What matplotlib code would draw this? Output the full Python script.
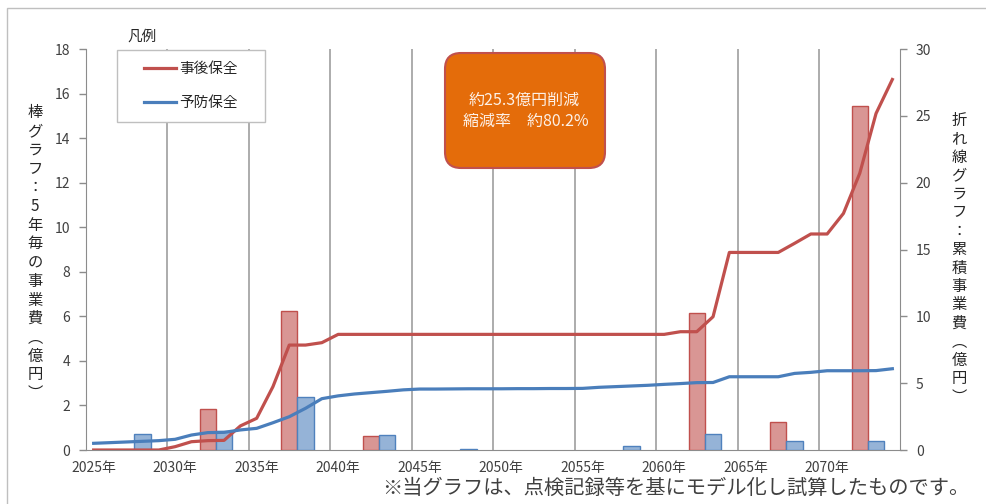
import numpy as np
import matplotlib
matplotlib.use("Agg")
import matplotlib.pyplot as plt
from matplotlib.patches import Rectangle, FancyBboxPatch

plt.rcParams['font.family'] = ['Noto Sans CJK JP', 'DejaVu Sans']

# データ
years = list(range(2025, 2075))
red_cum = [0, 0, 0, 0, 0,
           0.25, 0.62, 0.70, 0.72, 1.80, 2.37, 4.74, 7.85, 7.85, 8.03,
           8.65, 8.65, 8.65, 8.65, 8.65, 8.65, 8.65, 8.65, 8.65, 8.65,
           8.65, 8.65, 8.65, 8.65, 8.65, 8.65, 8.65, 8.65, 8.65, 8.65, 8.65,
           8.85, 8.85, 9.97, 14.78, 14.78, 14.78, 14.78,
           15.46, 16.16, 16.16, 17.70, 20.70, 25.18, 27.72]
blue_cum = [0.50, 0.55, 0.60, 0.65, 0.70, 0.80, 1.12, 1.30, 1.32, 1.50,
            1.62, 2.04, 2.49, 3.12, 3.84, 4.05, 4.19, 4.29, 4.39, 4.50,
            4.56, 4.56, 4.57, 4.58, 4.58, 4.58, 4.59, 4.59, 4.60, 4.60,
            4.61, 4.69, 4.74, 4.79, 4.84, 4.91, 4.97, 5.04, 5.05, 5.48,
            5.48, 5.48, 5.48, 5.73, 5.81, 5.93, 5.93, 5.93, 5.94, 6.08]
red_bar_years = [2032, 2037, 2042, 2062, 2067, 2072]
red_bar_vals = [1.83, 6.24, 0.63, 6.13, 1.27, 15.44]
blue_bar_years = [2028, 2033, 2038, 2043, 2048, 2058, 2063, 2068, 2073]
blue_bar_vals = [0.70, 0.85, 2.39, 0.67, 0.06, 0.18, 0.72, 0.42, 0.42]
label_years = list(range(2025, 2075, 5))
series_names = ['事後保全', '予防保全']

W, H = 986, 504
fig = plt.figure(figsize=(W / 100, H / 100), dpi=100)


def fx(x):
    return x / W


def fy(y):
    return 1 - y / H


ax = fig.add_axes([fx(85.5), fy(450), fx(900.5) - fx(85.5), fy(49) - fy(450)])
ax2 = ax.twinx()

text_col = '#404040'
axis_col = '#8c8c8c'

# 棒グラフ
ax.bar(red_bar_years, red_bar_vals, width=1, align='edge',
       color='#D99694', edgecolor='#C0504D', linewidth=1, zorder=3)
ax.bar(blue_bar_years, blue_bar_vals, width=1, align='edge',
       color='#95B3D7', edgecolor='#4F81BD', linewidth=1, zorder=3)

# 折れ線
xs = np.array(years) + 0.5
l1, = ax2.plot(xs, red_cum, color='#C0504D', lw=2.3, solid_joinstyle='round')
l2, = ax2.plot(xs, blue_cum, color='#4A7EBB', lw=2.3, solid_joinstyle='round')

ax.set_xlim(2025, 2075)
ax.set_ylim(0, 18)
ax2.set_ylim(0, 30)
ax.set_yticks(range(0, 19, 2))
ax2.set_yticks(range(0, 31, 5))
ax.set_xticks(np.array(label_years) + 0.5)
ax.set_xticklabels([f'{y}年' for y in label_years])
ax.set_xticks(range(2030, 2075, 5), minor=True)
ax.grid(which='minor', axis='x', color='#a6a6a6', lw=1.3)
ax.tick_params(axis='x', which='both', length=0, labelsize=10, colors=text_col, pad=8)
ax.tick_params(axis='y', length=5, width=1, color=axis_col, labelsize=10,
               labelcolor=text_col, pad=6)
ax2.tick_params(axis='y', length=5, width=1, color=axis_col, labelsize=10,
                labelcolor=text_col, pad=6)

for a in (ax, ax2):
    a.spines['top'].set_visible(False)
    for s in ('left', 'right', 'bottom'):
        a.spines[s].set_color(axis_col)
ax.spines['right'].set_visible(False)
ax2.spines['left'].set_visible(False)
ax2.spines['bottom'].set_visible(False)

# 外枠
fig.add_artist(Rectangle((0.07, -1), 20, 5.96, transform=fig.dpi_scale_trans,
                         fill=False, edgecolor='#bfbfbf', lw=1, zorder=1))

# 凡例
fig.add_artist(Rectangle((1.17, (H - 122) / 100), 1.48, 0.72, transform=fig.dpi_scale_trans,
                         facecolor='white', edgecolor='#bfbfbf', lw=1, zorder=3))
fig.text(fx(127), fy(37), '凡例', fontsize=10.5, color='#262626', va='center')
fig.legend([l1, l2], series_names, loc='center', bbox_to_anchor=(fx(191), fy(86)),
           frameon=False, fontsize=10.5, handlelength=2.2, handletextpad=0.2,
           labelspacing=1.35, labelcolor='#262626')

# 吹き出し
fig.add_artist(FancyBboxPatch((4.45, (H - 168) / 100), 1.60, 1.15,
                              boxstyle='round,pad=0,rounding_size=0.16',
                              transform=fig.dpi_scale_trans,
                              facecolor='#E46C0A', edgecolor='#C0504D', lw=1.5, zorder=4))
fig.text(fx(524), fy(100), '約25.3億円削減', color='#FDF0E6', fontsize=11.5,
         ha='center', va='center', zorder=5)
fig.text(fx(526), fy(121), '縮減率　約80.2%', color='#FDF0E6', fontsize=11.5,
         ha='center', va='center', zorder=5)

# 縦書きラベル
left_label = '棒グラフ：5年毎の事業費︵億円︶'
right_label = '折れ線グラフ：累積事業費︵億円︶'
for i, ch in enumerate(left_label):
    fig.text(fx(35), fy(113 + i * 18.7), ch, fontsize=11, color='#262626',
             ha='center', va='center')
for i, ch in enumerate(right_label):
    fig.text(fx(959), fy(120 + i * 18.5), ch, fontsize=11, color='#262626',
             ha='center', va='center')

# 注記
fig.text(fx(382), fy(488), '※当グラフは、点検記録等を基にモデル化し試算したものです。',
         fontsize=14.6, color='#404040', ha='left', va='center')

fig.savefig('out.png', dpi=100)
